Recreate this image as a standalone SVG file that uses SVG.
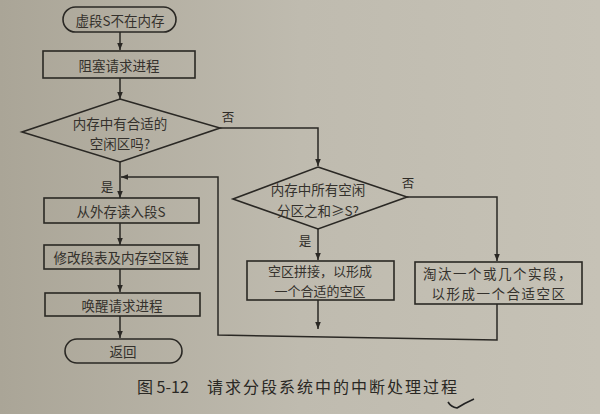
<svg xmlns="http://www.w3.org/2000/svg" width="600" height="414" viewBox="0 0 600 414">
<defs>
<linearGradient id="bg" x1="0" y1="0" x2="1" y2="0">
<stop offset="0" stop-color="#aaa597"/>
<stop offset="0.5" stop-color="#bfbbaf"/>
<stop offset="1" stop-color="#c6c2b6"/>
</linearGradient>
<marker id="arr" viewBox="0 0 10 10" refX="10" refY="5" markerWidth="7" markerHeight="8" orient="auto" markerUnits="userSpaceOnUse">
<path d="M0,1 L10,5 L0,9 Z" fill="#2a2824"/>
</marker>
<style>
.s{fill:none;stroke:#2a2824;stroke-width:1.5}
.n{fill:none;stroke:#2a2824;stroke-width:1.6}
.t{font-family:"Noto Sans CJK SC","Liberation Serif",serif;font-size:13.5px;fill:#34312c;text-anchor:middle;dominant-baseline:central}
.l{font-family:"Noto Sans CJK SC","Liberation Serif",serif;font-size:12.5px;fill:#2e2b27;text-anchor:middle;dominant-baseline:central}
.c{font-family:"Noto Sans CJK SC","Liberation Serif",serif;font-size:16px;fill:#2a2824;dominant-baseline:central}
</style>
</defs>
<rect width="600" height="414" fill="url(#bg)"/>
<g id="connectors">
<line class="s" x1="120" y1="32" x2="120" y2="50" marker-end="url(#arr)"/>
<line class="s" x1="120" y1="78" x2="120" y2="99" marker-end="url(#arr)"/>
<line class="s" x1="120" y1="162" x2="120" y2="198" marker-end="url(#arr)"/>
<polyline class="s" points="220,128 318,128 318,166" marker-end="url(#arr)"/>
<line class="s" x1="120" y1="223" x2="120" y2="245" marker-end="url(#arr)"/>
<line class="s" x1="120" y1="269" x2="120" y2="292" marker-end="url(#arr)"/>
<line class="s" x1="120" y1="316" x2="120" y2="338" marker-end="url(#arr)"/>
<line class="s" x1="318" y1="229" x2="318" y2="260" marker-end="url(#arr)"/>
<polyline class="s" points="407,197 497,197 497,261" marker-end="url(#arr)"/>
<line class="s" x1="318" y1="300" x2="318" y2="329" marker-end="url(#arr)"/>
<polyline class="s" points="497,304 497,340 218,335 218,177 121,177" marker-end="url(#arr)"/>
</g>
<g id="start">
<rect class="n" x="63" y="7" width="113" height="25" rx="12.5"/>
<text class="t" x="120" y="19.5">虚段S不在内存</text>
</g>
<g id="block">
<rect class="n" x="43" y="51" width="152" height="27"/>
<text class="t" x="119" y="64.5">阻塞请求进程</text>
</g>
<g id="d1">
<polygon class="n" points="120,99 220,128 120,162 22,132"/>
<text class="t" x="120" y="123">内存中有合适的</text>
<text class="t" x="120" y="143">空闲区吗?</text>
<text class="l" x="228" y="116">否</text>
<text class="l" x="107" y="186">是</text>
</g>
<g id="read">
<rect class="n" x="44" y="198" width="155" height="25"/>
<text class="t" x="121" y="210.5">从外存读入段S</text>
</g>
<g id="modify">
<rect class="n" x="44" y="245" width="155" height="24"/>
<text class="t" x="121" y="257">修改段表及内存空区链</text>
</g>
<g id="wake">
<rect class="n" x="45" y="293" width="155" height="23"/>
<text class="t" x="122" y="304.5">唤醒请求进程</text>
</g>
<g id="return">
<rect class="n" x="65" y="339" width="117" height="24" rx="12"/>
<text class="t" x="123" y="351">返回</text>
</g>
<g id="d2">
<polygon class="n" points="318,167 407,197 318,229 233,199"/>
<text class="t" x="318" y="189">内存中所有空闲</text>
<text class="t" x="318" y="210">分区之和≥S?</text>
<text class="l" x="408" y="182">否</text>
<text class="l" x="305" y="240">是</text>
</g>
<g id="compact">
<rect class="n" x="247" y="261" width="147" height="39"/>
<text class="t" x="320" y="270.5" style="font-size:13px">空区拼接，以形成</text>
<text class="t" x="320" y="290" style="font-size:13px">一个合适的空区</text>
</g>
<g id="evict">
<rect class="n" x="415" y="262" width="167" height="42"/>
<text class="t" x="498" y="273" style="letter-spacing:1.5px">淘汰一个或几个实段，</text>
<text class="t" x="499" y="293" style="letter-spacing:1.5px">以形成一个合适空区</text>
</g>
<g id="caption">
<text class="c" x="137" y="386">图 5-12</text>
<text class="c" x="207" y="386" style="letter-spacing:2px">请求分段系统中的中断处理过程</text>
<path d="M448,402 Q451,407 457,408 Q465,403 474,399" fill="none" stroke="#222" stroke-width="1.6"/>
</g>
</svg>
